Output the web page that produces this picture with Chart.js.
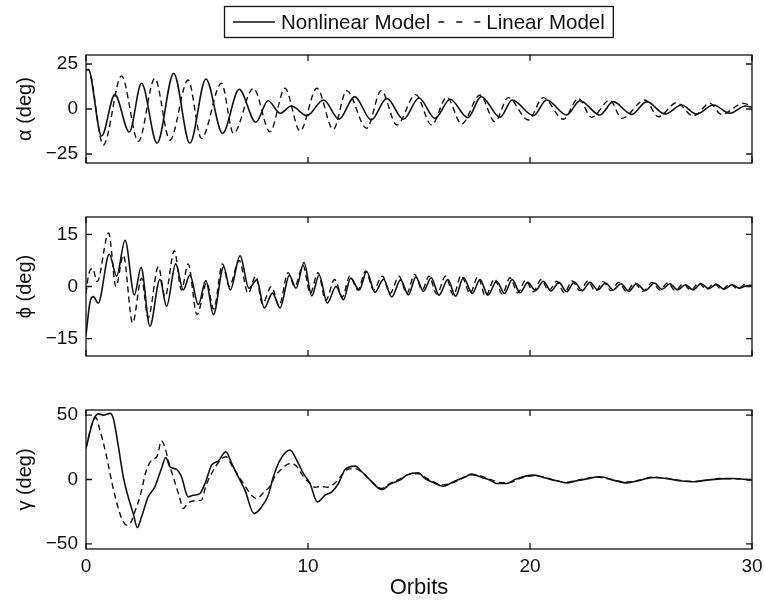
<!DOCTYPE html>
<html>
<head>
<meta charset="utf-8">
<script src="https://cdn.jsdelivr.net/npm/chart.js@4.4.1/dist/chart.umd.min.js"></script>
<style>
  html, body { margin: 0; padding: 0; background: #fff; }
  #wrap { position: relative; width: 764px; height: 603px; overflow: hidden; }
  .panel { position: absolute; left: 0; width: 764px; }
</style>
</head>
<body>
<div id="wrap">
  <div class="panel" style="top:0;height:190px"><canvas id="alphaChart" width="764" height="190"></canvas></div>
  <div class="panel" style="top:180px;height:200px"><canvas id="phiChart" width="764" height="200"></canvas></div>
  <div class="panel" style="top:370px;height:233px"><canvas id="gammaChart" width="764" height="233"></canvas></div>
</div>
<script>
// -------- DATA (orbit, degrees) --------
const xTicks = [0, 10, 20, 30];
const alphaTicks = [-25, 0, 25];
const phiTicks = [-15, 0, 15];
const gammaTicks = [-50, 0, 50];

const alphaNonlinear = [[0,21.5],[0.1,22],[0.7,-15],[1.3,8],[1.95,-12.8],[2.5,14.3],[3.2,-19],[3.95,19.8],[4.68,-19],[5.4,16.7],[6.15,-13.5],[6.9,10.9],[7.65,-7.4],[8.2,4.6],[8.75,-2.4],[9.25,1.7],[9.95,-3.7],[10.7,5],[11.4,-5.7],[12.1,6.9],[12.85,-6.1],[13.55,5.9],[14.3,-5.7],[15.0,6.1],[15.72,-5.2],[16.4,5.4],[17.2,-4.8],[17.8,6.9],[18.65,-4.6],[19.2,5],[20.15,-3.7],[20.75,5],[21.65,-3.3],[22.25,4.6],[23.15,-3.3],[23.75,4.1],[24.58,-3],[25.26,4.1],[26.08,-2.8],[26.83,2.2],[27.5,-2.8],[28.26,2.2],[29.0,-2.4],[29.7,1.7],[30,0.9]];
const alphaLinear = [[0,21.5],[0.1,22],[0.78,-20],[1.6,18.3],[2.36,-18],[3.1,17],[3.78,-17.2],[4.6,16.1],[5.2,-16.3],[6.1,14.3],[6.64,-13.5],[7.54,11.5],[8.29,-12.6],[8.96,11.5],[9.64,-12.2],[10.4,11.5],[11.14,-11.3],[11.74,10.2],[12.64,-10.7],[13.3,10.2],[14.0,-8.9],[14.85,8],[15.57,-8.9],[16.25,6.5],[16.92,-8.3],[17.75,7.8],[18.42,-7],[19.02,6.3],[19.92,-6.1],[20.6,6.3],[21.5,-5.7],[22.18,5.9],[22.78,-4.6],[23.6,5],[24.13,-5.2],[25.18,5],[25.78,-4.3],[26.6,3.5],[27.36,-3.9],[28.1,3.1],[28.63,-3],[29.6,3.1],[30,1.5]];

const phiNonlinear = [[0,-14],[0.18,-4.5],[0.33,-2.9],[0.55,-4.8],[1.05,9.3],[1.38,3],[1.76,13.3],[2.18,-2.4],[2.48,5.5],[2.88,-11.4],[3.33,2.1],[3.63,-5.7],[4.04,6.5],[4.38,-1],[4.68,3.3],[5.06,-5.2],[5.4,1.7],[5.74,-8.1],[6.2,5.7],[6.5,-1],[6.94,8.8],[7.34,-0.5],[7.69,1.9],[8.03,-6.2],[8.4,-1.9],[8.74,-6.2],[9.16,3.2],[9.46,-0.5],[9.82,6.9],[10.17,-2.7],[10.5,3.3],[10.87,-4.8],[11.26,0],[11.6,-3.8],[11.92,2.4],[12.31,-1],[12.64,4.3],[13.02,-1.7],[13.4,2.1],[13.77,-3],[14.17,1.9],[14.52,-2.4],[14.86,2.7],[15.2,-1.4],[15.55,2.5],[15.9,-2.5],[16.3,2],[16.65,-2.8],[17.0,2.5],[17.4,-2],[17.75,2],[18.1,-2.5],[18.5,1.5],[18.85,-2],[19.2,2],[19.55,-1.8],[19.9,1.2],[20.25,-1.2],[20.6,1.5],[20.95,-1.3],[21.3,1.2],[21.65,-1.5],[22.0,1.3],[22.35,-1.2],[22.7,1.2],[23.05,-1],[23.4,1],[23.75,-1],[24.1,0.8],[24.45,-1.4],[24.8,0.8],[25.2,-1.2],[25.6,1],[25.95,-0.8],[26.3,0.8],[26.65,-1],[27.0,0.5],[27.35,-1],[27.7,0.8],[28.05,-0.6],[28.4,0.6],[28.75,-0.8],[29.1,0.5],[29.45,-0.5],[29.8,0.3],[30,0]];
const phiLinear = [[0,-2],[0.12,3.5],[0.3,5.2],[0.5,1.4],[1.02,15.4],[1.35,0],[1.68,9],[2.1,-10.5],[2.5,2.4],[2.8,-9],[3.26,5.7],[3.56,-2.9],[3.98,10.3],[4.3,-1],[4.6,6.5],[5.0,-8.1],[5.44,1.1],[5.75,-6.5],[6.15,6.5],[6.45,0],[6.9,7.5],[7.3,-2],[7.65,3],[7.95,-5],[8.35,0],[8.7,-5.5],[9.1,4],[9.4,0],[9.78,6],[10.1,-2],[10.45,4],[10.8,-4],[11.2,2],[11.55,-3],[11.88,3],[12.25,-1],[12.6,4.5],[12.95,-1],[13.35,3],[13.7,-2],[14.1,3],[14.45,-2],[14.8,3.5],[15.15,-1],[15.45,3],[15.8,-2.2],[16.2,3],[16.55,-2.5],[16.9,3.2],[17.3,-2],[17.65,2.8],[18.0,-2.8],[18.4,2.2],[18.75,-2.2],[19.1,2.5],[19.45,-1.8],[19.8,1.8],[20.15,-1.5],[20.5,2],[20.85,-1.2],[21.2,1.5],[21.55,-1.8],[21.9,1.6],[22.25,-1.2],[22.6,1.5],[22.95,-1.3],[23.3,1.4],[23.65,-1.2],[24.0,1.2],[24.35,-1.5],[24.7,1],[25.1,-1.4],[25.5,1.2],[25.85,-1],[26.2,1],[26.55,-1.2],[26.9,0.8],[27.25,-1.1],[27.6,1],[27.95,-0.8],[28.3,0.8],[28.65,-0.9],[29.0,0.7],[29.35,-0.6],[29.7,0.6],[30,0.2]];

const gammaNonlinear = [[0,24.2],[0.33,46],[0.56,51],[0.78,50],[1.08,51.4],[1.23,47.5],[1.46,25.5],[1.68,2],[1.9,-13.5],[2.13,-26.5],[2.31,-37.4],[2.5,-29],[2.8,-13.5],[3.1,-5.7],[3.4,8.6],[3.59,17.1],[3.78,9.9],[4.08,7.8],[4.3,2.1],[4.6,-13.5],[4.83,-12.2],[5.13,-10.9],[5.36,-3.1],[5.66,11.2],[5.96,14.3],[6.3,21.6],[6.56,12.5],[6.86,2.1],[7.16,-8.3],[7.57,-26.5],[7.91,-21.3],[8.21,-12.2],[8.44,2.1],[8.74,15.1],[9.19,22.9],[9.49,15.1],[9.79,4.7],[10.09,-3.1],[10.42,-17.4],[10.77,-12.2],[11.07,-9.6],[11.37,-3.1],[11.67,7.8],[12.12,10.4],[12.42,6],[12.8,-0.5],[13.32,-7.8],[13.7,-3.6],[14.14,-0.5],[14.44,3.4],[14.97,5.2],[15.27,0.8],[15.57,-1.8],[16.1,-5.2],[16.55,-1.8],[17.15,2.6],[17.37,4.2],[17.82,1.6],[18.2,-0.5],[18.5,-3.1],[18.95,-3.1],[19.32,0],[20.15,3.4],[20.6,1.6],[21.2,-1],[21.65,-2.6],[22.1,-1],[22.55,0.5],[23.15,2.1],[23.75,-0.5],[24.35,-2.6],[24.95,-0.5],[25.55,1.6],[26.15,0.8],[26.75,-1],[27.35,-1.8],[27.95,-0.5],[28.55,0.5],[29.15,0.8],[30,-0.5]];
const gammaLinear = [[0,24.2],[0.25,42],[0.45,48],[0.6,40],[0.9,20],[1.2,-5],[1.5,-25],[1.68,-33],[1.85,-35.5],[2.0,-34],[2.2,-25],[2.45,-12],[2.7,6],[2.95,15],[3.2,18],[3.4,30],[3.55,25],[3.75,12],[4.0,-2],[4.2,-13],[4.38,-22.6],[4.6,-18],[4.9,-16.5],[5.2,-16],[5.4,-5],[5.7,6],[6.0,14],[6.3,17.7],[6.6,10],[6.9,2],[7.2,-6],[7.5,-13],[7.7,-14.8],[8.0,-10],[8.3,-5],[8.5,2],[8.8,8],[9.2,12.5],[9.5,10],[9.8,2],[10.1,-3],[10.3,-6],[10.6,-5.5],[10.9,-6],[11.2,-3],[11.5,3],[11.8,8],[12.1,8.5],[12.45,5.5],[12.8,-0.5],[13.3,-7],[13.7,-3],[14.1,0],[14.5,3.8],[15.0,4.5],[15.3,1.5],[15.6,-1.5],[16.0,-4.2],[16.5,-2.6],[17.1,2],[17.4,3.6],[17.9,2],[18.3,-0.5],[18.7,-2.5],[19.1,-2.4],[19.5,0.5],[20.1,2.8],[20.6,2],[21.1,-0.5],[21.6,-2.2],[22.1,-0.8],[22.6,1],[23.1,1.8],[23.7,0],[24.3,-2],[24.9,-0.8],[25.5,1.8],[26.1,1],[26.7,-0.6],[27.3,-1.5],[27.9,-0.8],[28.5,0.8],[29.1,0.6],[30,-0.2]];

const seriesLabels = ["Nonlinear Model", "Linear Model"];

// -------- STYLE --------
const FONT = '"Liberation Sans", Arial, Helvetica, sans-serif';
const INK = "#111";

function minus(v) {
    return v < 0 ? "\u2212" + Math.abs(v) : String(v);
}

// frame + inward ticks on all four sides, like the original
const frameTicks = {
    id: "frameTicks",
    afterDatasetsDraw(chart) {
        const { ctx, chartArea: a, scales: { x, y } } = chart;
        ctx.save();
        ctx.strokeStyle = INK;
        ctx.lineWidth = 1.3;
        ctx.strokeRect(a.left, a.top, a.right - a.left, a.bottom - a.top);
        ctx.beginPath();
        xTicks.forEach(v => {
            const px = x.getPixelForValue(v);
            ctx.moveTo(px, a.top); ctx.lineTo(px, a.top + 6);
            ctx.moveTo(px, a.bottom); ctx.lineTo(px, a.bottom - 6);
        });
        y.ticks.forEach(t => {
            const py = y.getPixelForValue(t.value);
            ctx.moveTo(a.left, py); ctx.lineTo(a.left + 6, py);
            ctx.moveTo(a.right, py); ctx.lineTo(a.right - 6, py);
        });
        ctx.stroke();
        ctx.restore();
    }
};

// boxed legend above the top panel
const boxLegend = {
    id: "boxLegend",
    afterDraw(chart) {
        const ctx = chart.ctx;
        const sets = chart.data.datasets;
        const dashes = [[], [6, 12]];
        ctx.save();
        ctx.font = "20.5px " + FONT;
        ctx.textBaseline = "middle";
        ctx.fillStyle = INK;
        ctx.strokeStyle = INK;
        const cy = 22;
        let x = 233;
        sets.forEach((ds, i) => {
            ctx.lineWidth = 1.4;
            ctx.setLineDash(dashes[i]);
            ctx.beginPath();
            ctx.moveTo(x, cy); ctx.lineTo(x + 42, cy);
            ctx.stroke();
            x += 42 + 6;
            ctx.fillText(ds.label, x, cy + 1);
            x += ctx.measureText(ds.label).width + 8;
        });
        ctx.setLineDash([]);
        ctx.lineWidth = 1.3;
        ctx.strokeRect(224.5, 6.5, x - 224, 31);
        ctx.restore();
    }
};

function makePanel(id, nonlin, lin, yMin, yMax, yTicks, yTitle, pad, bottomAxis) {
    const ctx = document.getElementById(id).getContext("2d");
    return new Chart(ctx, {
        type: "line",
        data: {
            datasets: [{
                label: seriesLabels[0],
                data: nonlin.map(([x, y]) => ({ x, y })),
                borderColor: INK,
                borderWidth: 1.6
            }, {
                label: seriesLabels[1],
                data: lin.map(([x, y]) => ({ x, y })),
                borderColor: INK,
                borderWidth: 1.4,
                borderDash: [6, 4]
            }]
        },
        options: {
            responsive: false,
            animation: false,
            events: [],
            layout: { padding: pad },
            elements: {
                point: { radius: 0 },
                line: { cubicInterpolationMode: "monotone", fill: false }
            },
            plugins: { legend: { display: false }, tooltip: { enabled: false } },
            scales: {
                x: {
                    type: "linear",
                    min: 0,
                    max: 30,
                    display: bottomAxis,
                    afterBuildTicks: s => { s.ticks = xTicks.map(v => ({ value: v })); },
                    afterFit: s => {
                        if (!bottomAxis) return;
                        s.height = 54;
                        s.paddingLeft = 0;
                        s.paddingRight = 0;
                    },
                    grid: { display: false, drawTicks: false, tickLength: 0 },
                    border: { display: false },
                    ticks: { padding: 6, maxRotation: 0, color: INK, font: { family: FONT, size: 19 } },
                    title: {
                        display: true,
                        text: "Orbits",
                        color: INK,
                        font: { family: FONT, size: 22 },
                        padding: { top: 0, bottom: 2 }
                    }
                },
                y: {
                    min: yMin,
                    max: yMax,
                    afterBuildTicks: s => { s.ticks = yTicks.map(v => ({ value: v })); },
                    afterFit: s => { s.width = 86; },
                    grid: { display: false, drawTicks: false, tickLength: 0 },
                    border: { display: false },
                    ticks: {
                        padding: 8,
                        color: INK,
                        font: { family: FONT, size: 19 },
                        callback: v => minus(v)
                    },
                    title: {
                        display: true,
                        text: yTitle,
                        color: INK,
                        font: { family: FONT, size: 20 },
                        padding: { top: 13, bottom: 0 }
                    }
                }
            }
        },
        plugins: id === "alphaChart" ? [frameTicks, boxLegend] : [frameTicks]
    });
}

makePanel("alphaChart", alphaNonlinear, alphaLinear, -30, 30, alphaTicks, "\u03b1 (deg)",
    { top: 55, right: 12, bottom: 27, left: 0 }, false);
makePanel("phiChart", phiNonlinear, phiLinear, -20, 20, phiTicks, "\u03d5 (deg)",
    { top: 37, right: 12, bottom: 24, left: 0 }, false);
makePanel("gammaChart", gammaNonlinear, gammaLinear, -54, 54, gammaTicks, "\u03b3 (deg)",
    { top: 40, right: 12, bottom: 0, left: 0 }, true);
</script>
</body>
</html>
